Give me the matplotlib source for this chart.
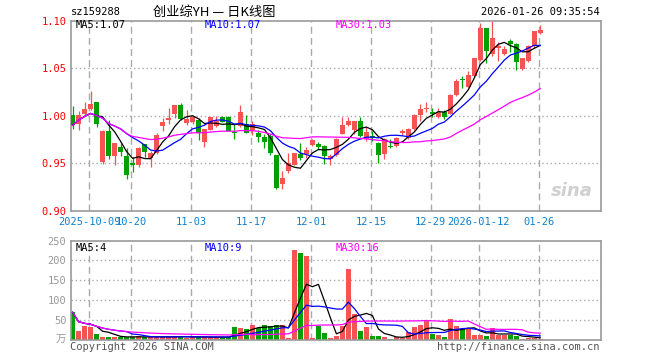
import numpy as np
import pandas as pd
import matplotlib
matplotlib.use('Agg')
import matplotlib.pyplot as plt

# daily candles, 2025-09-26 .. 2026-01-26
opens = [1.001, 0.991, 1.002, 1.007, 1.015, 0.951, 0.984, 0.958, 0.967, 0.958,
         0.9506, 0.948, 0.970, 0.9558, 0.961, 0.9896, 0.9958, 1.0017, 1.011, 0.992,
         0.993, 0.9955, 0.9729, 0.985, 0.9896, 0.9983, 0.999, 0.9826, 0.9889, 0.9913,
         0.9854, 0.9815, 0.978, 0.979, 0.959, 0.9287, 0.9415, 0.948, 0.960, 0.9597,
         0.9697, 0.9704, 0.968, 0.9548, 0.9589, 0.9809, 0.9903, 0.9854, 0.9941, 0.9756,
         0.9784, 0.9715, 0.960, 0.9687, 0.9687, 0.9816, 0.9763, 0.986, 1.0007, 1.007,
         1.004, 0.9983, 1.0035, 1.0024, 1.0219, 1.0383, 1.0303, 1.0418, 1.0585, 1.0922,
         1.065, 1.0714, 1.0654, 1.0783, 1.0755, 1.0487, 1.0574, 1.0738, 1.087]
highs = [1.010, 1.005, 1.014, 1.026, 1.015, 0.985, 0.9955, 0.9715, 0.9715, 0.966,
         0.9565, 0.967, 0.970, 0.9635, 0.982, 0.998, 1.0087, 1.011, 1.013, 1.006,
         1.000, 0.998, 0.986, 0.999, 1.000, 1.000, 1.000, 0.991, 1.011, 1.0007,
         0.9948, 0.985, 0.981, 0.981, 0.959, 0.942, 0.961, 0.9607, 0.971, 0.967,
         0.9756, 0.9722, 0.9694, 0.960, 0.9763, 0.9983, 0.9983, 0.9941, 0.9983, 0.9878,
         0.9843, 0.9722, 0.9763, 0.9756, 0.9774, 0.986, 0.9868, 1.0017, 1.012, 1.014,
         1.008, 1.0087, 1.006, 1.0226, 1.0383, 1.0418, 1.047, 1.0609, 1.0974, 1.0922,
         1.100, 1.0773, 1.0731, 1.081, 1.0766, 1.0602, 1.0748, 1.0894, 1.095]
lows = [0.986, 0.985, 1.000, 1.006, 0.988, 0.949, 0.955, 0.9485, 0.958, 0.934,
        0.941, 0.946, 0.9565, 0.946, 0.960, 0.9836, 0.991, 0.9976, 0.9958, 0.990,
        0.991, 0.9746, 0.9676, 0.985, 0.9885, 0.993, 0.9836, 0.9756, 0.9878, 0.9816,
        0.9798, 0.973, 0.9663, 0.959, 0.923, 0.9226, 0.940, 0.948, 0.9535, 0.956,
        0.9687, 0.9652, 0.9495, 0.9478, 0.9575, 0.9809, 0.9896, 0.9809, 0.9774, 0.9739,
        0.9739, 0.9502, 0.9548, 0.9659, 0.967, 0.980, 0.9756, 0.9854, 0.9948, 1.0035,
        0.999, 0.9976, 0.9965, 1.0017, 1.0209, 1.0289, 1.0289, 1.0407, 1.0574, 1.0557,
        1.0623, 1.0574, 1.0637, 1.0668, 1.0477, 1.0477, 1.0567, 1.0713, 1.086]
closes = [0.990, 1.001, 1.007, 1.012, 0.991, 0.984, 0.958, 0.9715, 0.9617, 0.9374,
          0.948, 0.966, 0.9624, 0.9607, 0.980, 0.993, 0.9976, 1.011, 0.9965, 0.9965,
          0.999, 0.9816, 0.986, 0.999, 0.9948, 0.9937, 0.9843, 0.9816, 1.0042, 0.9816,
          0.9913, 0.978, 0.9729, 0.961, 0.924, 0.9343, 0.950, 0.9605, 0.9558, 0.9643,
          0.9746, 0.9676, 0.9582, 0.9582, 0.9756, 0.9903, 0.9948, 0.9941, 0.9784, 0.9833,
          0.9763, 0.9589, 0.9756, 0.9676, 0.9763, 0.9843, 0.986, 1.0007, 1.007, 1.0087,
          1.002, 1.0035, 0.9983, 1.0219, 1.0365, 1.0372, 1.0428, 1.0602, 1.0922, 1.0679,
          1.0815, 1.0735, 1.0706, 1.0755, 1.0564, 1.0602, 1.0738, 1.0887, 1.0905]
# volume, unit: 万
volumes = [69, 21, 33, 31, 13, 7, 7, 7, 6, 6, 7, 8, 6, 6, 7, 7, 7, 7, 9, 5,
           6, 6, 6, 6, 6, 6, 6, 31, 29, 26, 36, 29, 36, 33, 36, 36, 5, 226, 220, 212,
           5, 35, 17, 5, 10, 35, 179, 64, 21, 31, 9, 9, 6, 2, 6, 5, 18, 31, 36, 48,
           15, 11, 6, 51, 34, 26, 26, 11, 11, 9, 28, 11, 11, 11, 8, 2, 5, 4, 2]

tick_idx = [3, 10, 20, 30, 40, 50, 60, 68, 78]
tick_labels = ['2025-10-09', '10-20', '11-03', '11-17', '12-01', '12-15',
               '12-29', '2026-01-12', '01-26']
price_ticks = [0.90, 0.95, 1.00, 1.05, 1.10]
vol_ticks = [50, 100, 150, 200, 250]

RED = '#f65454'
GREEN = '#00a000'
GRID = '#aaaaaa'
MONO = 'DejaVu Sans Mono'
CJK = ['Noto Sans CJK SC', 'DejaVu Sans']

o = np.array(opens); h = np.array(highs); l = np.array(lows); c = np.array(closes)
v = np.array(volumes, dtype=float)
x = np.arange(len(c))
up = c >= o
cols = np.where(up, RED, GREEN)

cs = pd.Series(c)
vs = pd.Series(v)
ma_cols = {5: 'black', 10: '#0000ff', 30: '#ff00ff'}

fig = plt.figure(figsize=(6.6, 3.6), dpi=100)
fig.patch.set_facecolor('white')
W, H = 660.0, 360.0
ax = fig.add_axes([70.5 / W, 1 - 211 / H, 530 / W, 190.4 / H])
ax2 = fig.add_axes([70.5 / W, 1 - 339.5 / H, 530 / W, 98.8 / H])

xlim = (-0.35, 88.05)
for a in (ax, ax2):
    a.set_xlim(*xlim)
    for s in a.spines.values():
        s.set_color('#999999')
        s.set_linewidth(1.2)
    for t in tick_idx:
        a.axvline(t - 0.25, color=GRID, lw=1, ls=(0, (5, 3)), zorder=0)
    a.tick_params(length=0)

# price panel
ax.set_ylim(0.90, 1.10)
for p in price_ticks[1:-1]:
    ax.axhline(p, color=GRID, lw=1, ls=(0, (1, 2)), zorder=0)
ax.vlines(x, l, h, colors=cols, lw=0.9, zorder=2)
body = np.maximum(np.abs(c - o), 0.0006)
ax.bar(x, body, bottom=np.minimum(o, c), width=0.78, color=cols, lw=0, zorder=3)
for n, col in ma_cols.items():
    ax.plot(x, cs.rolling(n, min_periods=1).mean(), color=col, lw=0.9, zorder=4)
ax.set_yticks(price_ticks)
ax.set_yticklabels(['%.2f' % p for p in price_ticks], color='#ff0000',
                   fontsize=7.5, family=MONO)
ax.set_xticks([t - 0.25 for t in tick_idx])
ax.set_xticklabels(tick_labels, color='#1080d0', fontsize=7.5, family=MONO)
ax.tick_params(axis='x', pad=4)
ax.tick_params(axis='y', pad=3)

ma_x = [76, 205, 336]
for (n, col), px in zip(ma_cols.items(), ma_x):
    val = cs.rolling(n, min_periods=1).mean().iloc[-1]
    fig.text(px / W, 1 - 25 / H, 'MA%d:%.2f' % (n, val), color=col,
             fontsize=7.5, family=MONO, va='center')
ax.text(0.985, 0.06, 'sina', transform=ax.transAxes, ha='right', va='bottom',
        color='#d0d0d0', fontsize=13, fontstyle='italic', fontweight='bold')

# volume panel
ax2.set_ylim(0, 250)
for p in vol_ticks[:-1]:
    ax2.axhline(p, color=GRID, lw=1, ls=(0, (1, 2)), zorder=0)
ax2.bar(x, v, width=0.78, color=cols, lw=0, zorder=2)
for n, col in ma_cols.items():
    ax2.plot(x, vs.rolling(n, min_periods=1).mean(), color=col, lw=0.9, zorder=3)
ax2.set_yticks(vol_ticks)
ax2.set_yticklabels([str(t) for t in vol_ticks], color='#999999', fontsize=7.5, family=MONO)
ax2.tick_params(axis='y', pad=3)
ax2.set_xticks([])
ax2.text(-0.008, 0.0, '万', transform=ax2.transAxes, ha='right', va='center',
         color='#999999', fontsize=7.5, family=CJK)
for (n, col), px in zip(ma_cols.items(), ma_x):
    val = vs.rolling(n, min_periods=1).mean().iloc[-1]
    fig.text(px / W, 1 - 248 / H, 'MA%d:%.0f' % (n, val), color=col,
             fontsize=7.5, family=MONO, va='center')

# header and footer
fig.text(71 / W, 1 - 12 / H, 'sz159288', fontsize=7.5, family=MONO, va='center')
fig.text(214 / W, 1 - 12 / H, '创业综YH — 日K线图', fontsize=9.5, family=CJK,
         ha='center', va='center')
fig.text(600 / W, 1 - 12 / H, '2026-01-26 09:35:54', fontsize=7.5, family=MONO,
         ha='right', va='center')
fig.text(70 / W, 1 - 347 / H, 'Copyright 2026 SINA.COM', fontsize=7.5, family=MONO,
         color='#555555', va='center')
fig.text(600 / W, 1 - 347 / H, 'http://finance.sina.com.cn', fontsize=7.5, family=MONO,
         color='#555555', ha='right', va='center')

fig.savefig('out.png', dpi=100)
